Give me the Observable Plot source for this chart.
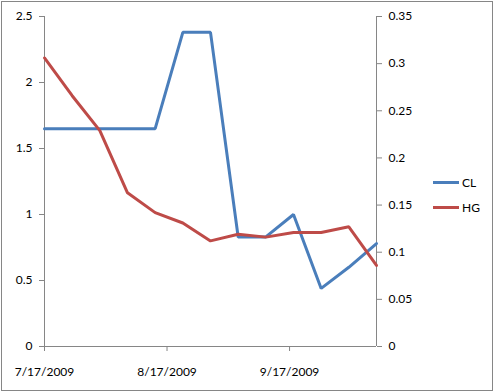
<!DOCTYPE html>
<html>
<head>
<meta charset="utf-8">
<script src="https://cdn.jsdelivr.net/npm/d3@7"></script>
<script src="https://cdn.jsdelivr.net/npm/@observablehq/plot@0.6"></script>
<style>
  html, body { margin: 0; padding: 0; background: #fff; }
  #wrap { position: relative; width: 494px; height: 392px; font-family: Lato, "Open Sans", sans-serif; }
  #border { position: absolute; left: 1px; top: 1px; width: 490px; height: 388px; border: 1px solid #868686; pointer-events: none; }
  .leg { position: absolute; left: 433px; height: 14px; font-size: 12px; color: #000; display: flex; align-items: center; }
  .leg span.sw { display: inline-block; width: 26px; height: 3px; margin-right: 3px; }
</style>
</head>
<body>
<div id="wrap">
  <div id="chart"></div>
  <div id="legend"></div>
  <div id="border"></div>
</div>
<script>
const dates = ["2009-07-17","2009-07-24","2009-07-31","2009-08-07","2009-08-14","2009-08-21","2009-08-28","2009-09-04","2009-09-11","2009-09-18","2009-09-25","2009-10-02","2009-10-09"];
const clValues = [1.65, 1.65, 1.65, 1.65, 1.65, 2.38, 2.38, 0.83, 0.83, 1.0, 0.44, 0.6, 0.78];
const hgValues = [0.306, 0.266, 0.229, 0.163, 0.142, 0.131, 0.112, 0.119, 0.116, 0.121, 0.121, 0.127, 0.086];
const leftTicks = [0, 0.5, 1, 1.5, 2, 2.5];
const rightTicks = [0, 0.05, 0.1, 0.15, 0.2, 0.25, 0.3, 0.35];
const xTickLabels = ["2009-07-17", "2009-08-17", "2009-09-17"];
const seriesNames = ["CL", "HG"];
const seriesColors = ["#4a7ebb", "#be4b48"];

const parse = d3.utcParse("%Y-%m-%d");
const rows = dates.map((d, i) => ({date: parse(d), cl: clValues[i], hg: hgValues[i]}));
const k = 2.5 / 0.35;
const xDomain = [parse(dates[0]), parse(dates[dates.length - 1])];
const fmtDate = d => `${d.getUTCMonth() + 1}/${d.getUTCDate()}/${d.getUTCFullYear()}`;
const axisColor = "#868686";

const chart = Plot.plot({
  width: 494,
  height: 392,
  marginLeft: 44,
  marginRight: 118,
  marginTop: 16,
  marginBottom: 46,
  style: {fontFamily: "Lato, 'Open Sans', sans-serif", fontSize: "12px", color: "#000", background: "transparent"},
  x: {type: "utc", domain: xDomain},
  y: {domain: [0, 2.5]},
  marks: [
    Plot.ruleX([xDomain[0]], {stroke: axisColor}),
    Plot.ruleX([xDomain[1]], {stroke: axisColor}),
    Plot.ruleY([0], {stroke: axisColor}),
    Plot.axisY({ticks: leftTicks, tickSize: 5, tickPadding: 7, stroke: axisColor, fill: "#000", tickFormat: d => String(d), label: null}),
    Plot.axisY({anchor: "right", ticks: rightTicks.map(v => v * k), tickSize: 5, tickPadding: 7, stroke: axisColor, fill: "#000",
      tickFormat: d => String(+(d / k).toFixed(2)), label: null}),
    Plot.axisX({ticks: xTickLabels.map(parse), tickSize: 5, tickPadding: 16, stroke: axisColor, fill: "#000", tickFormat: fmtDate, label: null}),
    Plot.lineY(rows, {x: "date", y: "cl", stroke: seriesColors[0], strokeWidth: 3, strokeLinejoin: "miter"}),
    Plot.lineY(rows, {x: "date", y: d => d.hg * k, stroke: seriesColors[1], strokeWidth: 3, strokeLinejoin: "miter"})
  ]
});
document.getElementById("chart").appendChild(chart);

const legend = document.getElementById("legend");
seriesNames.forEach((name, i) => {
  const div = document.createElement("div");
  div.className = "leg";
  div.style.top = (175 + i * 25.6) + "px";
  div.innerHTML = `<span class="sw" style="background:${seriesColors[i]}"></span>${name}`;
  legend.appendChild(div);
});
</script>
</body>
</html>
